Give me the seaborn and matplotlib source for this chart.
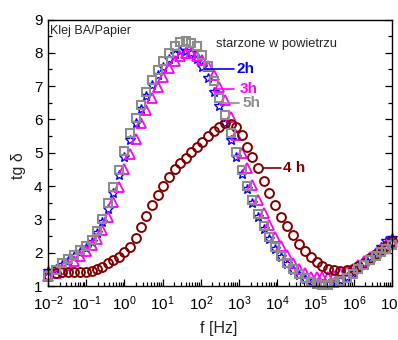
import matplotlib
matplotlib.use("Agg")
import matplotlib.pyplot as plt
import seaborn as sns
import pandas as pd
from matplotlib.ticker import FixedLocator, MultipleLocator, LogFormatterSciNotation, NullFormatter

# ---- data (log10 of frequency in Hz) ----
log_freq = [-2.0, -1.8, -1.64, -1.48, -1.32, -1.16, -1.0, -0.86, -0.72, -0.58,
            -0.44, -0.29, -0.15, 0.0, 0.15, 0.29, 0.43, 0.57, 0.72, 0.87,
            1.02, 1.16, 1.31, 1.46, 1.6, 1.75, 1.9, 2.04, 2.18, 2.33,
            2.48, 2.63, 2.78, 2.93, 3.07, 3.21, 3.35, 3.5, 3.65, 3.79,
            3.94, 4.09, 4.24, 4.4, 4.56, 4.72, 4.88, 5.03, 5.18, 5.33,
            5.49, 5.65, 5.81, 5.97, 6.12, 6.28, 6.42, 6.57, 6.71, 6.85, 7.0]

tg_2h = [1.45, 1.50, 1.64, 1.76, 1.89, 2.03, 2.15, 2.32, 2.58, 2.92,
         3.32, 3.80, 4.33, 4.88, 5.38, 5.88, 6.32, 6.70, 7.03, 7.32,
         7.58, 7.80, 7.96, 8.04, 8.05, 7.98, 7.82, 7.58, 7.25, 6.83,
         6.40, 5.90, 5.38, 4.86, 4.36, 3.90, 3.48, 3.08, 2.72, 2.40,
         2.10, 1.86, 1.66, 1.48, 1.34, 1.22, 1.13, 1.08, 1.06, 1.07,
         1.11, 1.18, 1.28, 1.40, 1.55, 1.70, 1.86, 2.00, 2.18, 2.34, 2.45]

tg_3h = [1.29, 1.40, 1.50, 1.62, 1.74, 1.90, 2.05, 2.22, 2.40, 2.68,
         3.08, 3.53, 3.98, 4.50, 4.97, 5.42, 5.88, 6.29, 6.64, 6.97,
         7.27, 7.54, 7.74, 7.89, 7.99, 8.00, 7.90, 7.78, 7.60, 7.34,
         6.97, 6.59, 6.08, 5.53, 5.00, 4.53, 4.03, 3.58, 3.20, 2.83,
         2.48, 2.20, 1.93, 1.70, 1.51, 1.38, 1.28, 1.26, 1.26, 1.26,
         1.30, 1.38, 1.45, 1.52, 1.62, 1.74, 1.88, 2.00, 2.12, 2.22, 2.32]

tg_4h = [1.32, 1.40, 1.43, 1.43, 1.43, 1.43, 1.43, 1.46, 1.51, 1.58,
         1.68, 1.78, 1.88, 2.03, 2.18, 2.45, 2.78, 3.10, 3.42, 3.72,
         4.00, 4.27, 4.50, 4.70, 4.85, 5.01, 5.17, 5.33, 5.50, 5.66,
         5.78, 5.88, 5.87, 5.76, 5.53, 5.18, 4.87, 4.53, 4.15, 3.78,
         3.42, 3.08, 2.80, 2.52, 2.27, 2.05, 1.87, 1.73, 1.61, 1.52,
         1.47, 1.45, 1.47, 1.52, 1.60, 1.70, 1.83, 1.95, 2.09, 2.21, 2.34]

tg_5h = [1.30, 1.48, 1.68, 1.80, 1.93, 2.08, 2.20, 2.38, 2.65, 3.01,
         3.48, 3.98, 4.48, 5.05, 5.58, 6.04, 6.44, 6.83, 7.19, 7.47,
         7.74, 7.99, 8.21, 8.32, 8.34, 8.29, 8.19, 7.94, 7.59, 7.16,
         6.65, 6.14, 5.59, 5.03, 4.48, 4.01, 3.57, 3.17, 2.80, 2.46,
         2.16, 1.90, 1.70, 1.51, 1.36, 1.23, 1.13, 1.06, 1.03, 1.03,
         1.08, 1.15, 1.23, 1.36, 1.50, 1.63, 1.78, 1.90, 2.03, 2.11, 2.23]

x_tick_exponents = [-2, -1, 0, 1, 2, 3, 4, 5, 6, 7]

series_names = ["2h", "3h", "4 h", "5h"]
series_values = [tg_2h, tg_3h, tg_4h, tg_5h]
series_colors = ["#0000FF", "#FF00FF", "#800000", "#8C8C8C"]
series_markers = ["*", "^", "o", "s"]
series_msize = [7.5, 7.6, 6.4, 6.2]
series_mew = [1.0, 1.3, 1.4, 1.5]

# label placement (log10 f, tg) for the callouts
label_line_x0 = [2.07, 2.38, 3.62, 2.51]
label_line_x1 = [2.86, 2.86, 4.09, 3.01]
label_y = [7.52, 6.92, 4.54, 6.50]
label_text_x = [2.93, 3.01, 4.16, 3.09]

sns.set_theme(style="ticks")
plt.rcParams["font.family"] = ["Liberation Sans", "DejaVu Sans"]
plt.rcParams["mathtext.fontset"] = "custom"
plt.rcParams["mathtext.rm"] = "Liberation Sans"
plt.rcParams["mathtext.it"] = "Liberation Sans:italic"
plt.rcParams["mathtext.bf"] = "Liberation Sans:bold"
plt.rcParams["axes.unicode_minus"] = False

freq = [10 ** e for e in log_freq]
frames = []
for name, vals in zip(series_names, series_values):
    frames.append(pd.DataFrame({"f": freq, "tg": vals, "series": name}))
df = pd.concat(frames, ignore_index=True)

fig = plt.figure(figsize=(3.98, 3.40), dpi=100)
ax = fig.add_axes([48 / 398, 1 - 286 / 340, 344 / 398, 266.5 / 340])

for name, col, mk, ms, mew in zip(series_names, series_colors, series_markers,
                                  series_msize, series_mew):
    sub = df[df["series"] == name]
    sns.lineplot(data=sub, x="f", y="tg", ax=ax, color=col, marker=mk,
                 linestyle="", markersize=ms, markerfacecolor="none",
                 markeredgecolor=col, markeredgewidth=mew, errorbar=None)
    ax.lines[-1].set_clip_on(False)

ax.set_xscale("log")
ax.set_xlim(1e-2, 1e7)
ax.set_ylim(1, 9)
major = [10.0 ** e for e in x_tick_exponents]
minor = [m * 10.0 ** e for e in x_tick_exponents[:-1] for m in range(2, 10)]
ax.xaxis.set_major_locator(FixedLocator(major))
ax.xaxis.set_minor_locator(FixedLocator(minor))
ax.xaxis.set_major_formatter(LogFormatterSciNotation())
ax.xaxis.set_minor_formatter(NullFormatter())
ax.yaxis.set_major_locator(MultipleLocator(1))
ax.yaxis.set_minor_locator(MultipleLocator(0.5))

for sp in ax.spines.values():
    sp.set_linewidth(1.0)
    sp.set_color("black")
ax.tick_params(which="both", direction="in", top=False, right=True,
               labelright=False, colors="black", width=0.9)
ax.tick_params(which="major", length=5)
ax.tick_params(which="minor", length=3)
ax.tick_params(axis="x", which="major", labelsize=11, pad=6)
ax.tick_params(axis="y", which="major", labelsize=11, pad=4)
ax.set_xlabel("")
ax.set_ylabel("")

fig.text(218.5 / 398, 1 - 329 / 340, "f [Hz]", ha="center", va="center", fontsize=11.5)
fig.text(19 / 398, 1 - 166 / 340, "tg δ", rotation=90, ha="center", va="center", fontsize=11.5)

ax.text(0.007, 0.955, "Klej BA/Papier", transform=ax.transAxes, ha="left",
        va="center", fontsize=9)
ax.text(216 / 398, 1 - 44 / 340, "starzone w powietrzu", transform=fig.transFigure,
        ha="left", va="center", fontsize=9.3)

for name, col, x0, x1, yv, xt in zip(series_names, series_colors, label_line_x0,
                                     label_line_x1, label_y, label_text_x):
    ax.plot([10 ** x0, 10 ** x1], [yv, yv], color=col, lw=1.2)
    ax.text(10 ** xt, yv, name, color=col, fontsize=11, fontweight="bold",
            ha="left", va="center")

fig.savefig("out.png", dpi=100)
